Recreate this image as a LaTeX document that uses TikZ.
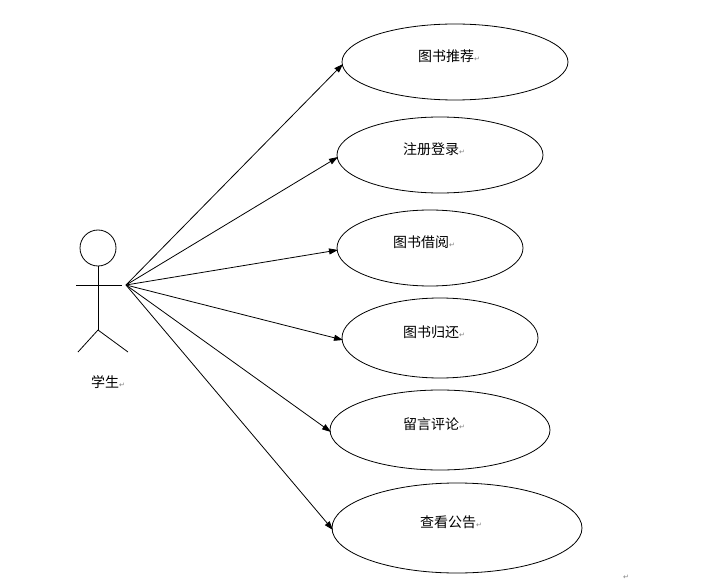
\documentclass[tikz,border=0pt]{standalone}
\usepackage{fontspec}
\newfontfamily\cjk{Noto Sans CJK SC}
\newfontfamily\symf{DejaVu Sans}
\usetikzlibrary{arrows.meta}
\newcommand{\ret}{{\symf\fontsize{7}{7}\selectfont\textcolor{gray}{↵}}}
\begin{document}
\begin{tikzpicture}[x=1pt,y=-1pt,
    font=\cjk\fontsize{14}{16}\selectfont,
    usecase/.style={draw, ellipse, thick, minimum width=#1},
    assoc/.style={-{Triangle[length=9pt,width=6pt]}, thick}
  ]
  \useasboundingbox (0,0) rectangle (701,588);
  % actor
  \draw[thick] (98,248) circle (18);
  \draw[thick] (98,266) -- (98,330) coordinate (hip);
  \draw[thick] (76,285) -- (122,285);
  \draw[thick] (hip) -- (78,352);
  \draw[thick] (hip) -- (128,352);
  \coordinate (stu) at (126,285);
  \node (stulab) at (108,382) {学生\ret};
  % use cases
  \foreach \n/\x/\y/\rx/\ry/\t in {
      tjtj/455/62/113/38/图书推荐,
      zcdl/440/155/103/38/注册登录,
      tsjy/430/248/93/38/图书借阅,
      tsgh/440/338/98/40/图书归还,
      lypl/440/430/110/40/留言评论,
      ckgg/457/528/125/45/查看公告} {
    \draw[thick] (\x,\y) ellipse ({\rx} and {\ry});
    \node (\n) at (\x-6,\y-6) {\t\ret};
    \draw[assoc] (stu) -- (\x-\rx+1,\y+2);
  }
  \node (endmark) at (626,577) {\ret};
\end{tikzpicture}
\end{document}
